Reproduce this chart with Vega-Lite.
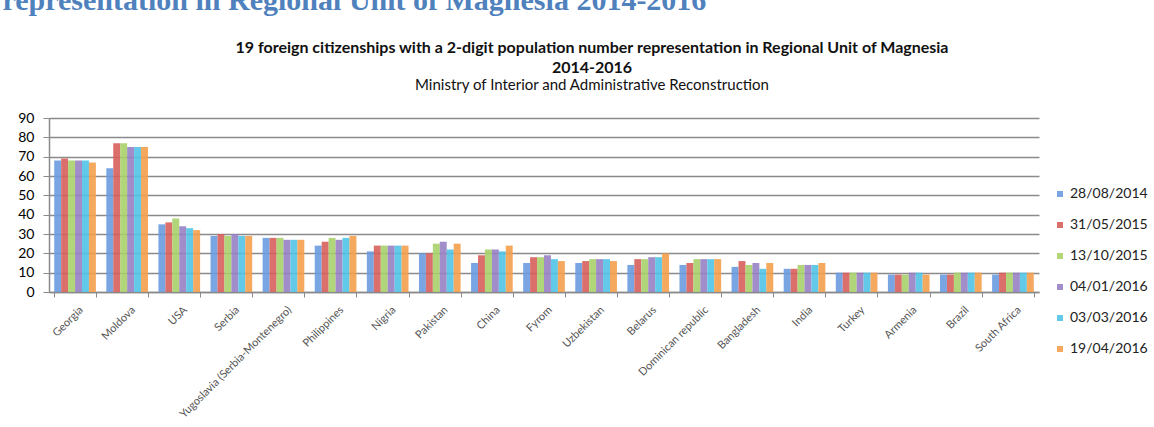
{
  "$schema": "https://vega.github.io/schema/vega-lite/v6.json",
  "autosize": {"type": "none"},
  "width": 990,
  "height": 174,
  "padding": {"left": 49, "top": 118, "right": 115, "bottom": 135},
  "background": "white",
  "title": {
    "text": ["19 foreign citizenships with a 2-digit population number representation in Regional Unit of Magnesia", "2014-2016"],
    "subtitle": "Ministry of Interior and Administrative Reconstruction",
    "anchor": "middle",
    "frame": "group",
    "dx": 48,
    "dy": 108,
    "offset": 0,
    "font": "Lato",
    "fontSize": 16,
    "fontWeight": "bold",
    "color": "#111111",
    "lineHeight": 20,
    "subtitleFont": "Lato",
    "subtitleFontSize": 15,
    "subtitleColor": "#111111",
    "subtitlePadding": 2
  },
  "data": {"values": [
    {"c":"Georgia","d":"28/08/2014","v":68},{"c":"Georgia","d":"31/05/2015","v":69},{"c":"Georgia","d":"13/10/2015","v":68},{"c":"Georgia","d":"04/01/2016","v":68},{"c":"Georgia","d":"03/03/2016","v":68},{"c":"Georgia","d":"19/04/2016","v":67},
    {"c":"Moldova","d":"28/08/2014","v":64},{"c":"Moldova","d":"31/05/2015","v":77},{"c":"Moldova","d":"13/10/2015","v":77},{"c":"Moldova","d":"04/01/2016","v":75},{"c":"Moldova","d":"03/03/2016","v":75},{"c":"Moldova","d":"19/04/2016","v":75},
    {"c":"USA","d":"28/08/2014","v":35},{"c":"USA","d":"31/05/2015","v":36},{"c":"USA","d":"13/10/2015","v":38},{"c":"USA","d":"04/01/2016","v":34},{"c":"USA","d":"03/03/2016","v":33},{"c":"USA","d":"19/04/2016","v":32},
    {"c":"Serbia","d":"28/08/2014","v":29},{"c":"Serbia","d":"31/05/2015","v":30},{"c":"Serbia","d":"13/10/2015","v":29},{"c":"Serbia","d":"04/01/2016","v":30},{"c":"Serbia","d":"03/03/2016","v":29},{"c":"Serbia","d":"19/04/2016","v":29},
    {"c":"Yugoslavia (Serbia-Montenegro)","d":"28/08/2014","v":28},{"c":"Yugoslavia (Serbia-Montenegro)","d":"31/05/2015","v":28},{"c":"Yugoslavia (Serbia-Montenegro)","d":"13/10/2015","v":28},{"c":"Yugoslavia (Serbia-Montenegro)","d":"04/01/2016","v":27},{"c":"Yugoslavia (Serbia-Montenegro)","d":"03/03/2016","v":27},{"c":"Yugoslavia (Serbia-Montenegro)","d":"19/04/2016","v":27},
    {"c":"Philippines","d":"28/08/2014","v":24},{"c":"Philippines","d":"31/05/2015","v":26},{"c":"Philippines","d":"13/10/2015","v":28},{"c":"Philippines","d":"04/01/2016","v":27},{"c":"Philippines","d":"03/03/2016","v":28},{"c":"Philippines","d":"19/04/2016","v":29},
    {"c":"Nigria","d":"28/08/2014","v":21},{"c":"Nigria","d":"31/05/2015","v":24},{"c":"Nigria","d":"13/10/2015","v":24},{"c":"Nigria","d":"04/01/2016","v":24},{"c":"Nigria","d":"03/03/2016","v":24},{"c":"Nigria","d":"19/04/2016","v":24},
    {"c":"Pakistan","d":"28/08/2014","v":20},{"c":"Pakistan","d":"31/05/2015","v":20},{"c":"Pakistan","d":"13/10/2015","v":25},{"c":"Pakistan","d":"04/01/2016","v":26},{"c":"Pakistan","d":"03/03/2016","v":22},{"c":"Pakistan","d":"19/04/2016","v":25},
    {"c":"China","d":"28/08/2014","v":15},{"c":"China","d":"31/05/2015","v":19},{"c":"China","d":"13/10/2015","v":22},{"c":"China","d":"04/01/2016","v":22},{"c":"China","d":"03/03/2016","v":21},{"c":"China","d":"19/04/2016","v":24},
    {"c":"Fyrom","d":"28/08/2014","v":15},{"c":"Fyrom","d":"31/05/2015","v":18},{"c":"Fyrom","d":"13/10/2015","v":18},{"c":"Fyrom","d":"04/01/2016","v":19},{"c":"Fyrom","d":"03/03/2016","v":17},{"c":"Fyrom","d":"19/04/2016","v":16},
    {"c":"Uzbekistan","d":"28/08/2014","v":15},{"c":"Uzbekistan","d":"31/05/2015","v":16},{"c":"Uzbekistan","d":"13/10/2015","v":17},{"c":"Uzbekistan","d":"04/01/2016","v":17},{"c":"Uzbekistan","d":"03/03/2016","v":17},{"c":"Uzbekistan","d":"19/04/2016","v":16},
    {"c":"Belarus","d":"28/08/2014","v":14},{"c":"Belarus","d":"31/05/2015","v":17},{"c":"Belarus","d":"13/10/2015","v":17},{"c":"Belarus","d":"04/01/2016","v":18},{"c":"Belarus","d":"03/03/2016","v":18},{"c":"Belarus","d":"19/04/2016","v":20},
    {"c":"Dominican republic","d":"28/08/2014","v":14},{"c":"Dominican republic","d":"31/05/2015","v":15},{"c":"Dominican republic","d":"13/10/2015","v":17},{"c":"Dominican republic","d":"04/01/2016","v":17},{"c":"Dominican republic","d":"03/03/2016","v":17},{"c":"Dominican republic","d":"19/04/2016","v":17},
    {"c":"Bangladesh","d":"28/08/2014","v":13},{"c":"Bangladesh","d":"31/05/2015","v":16},{"c":"Bangladesh","d":"13/10/2015","v":14},{"c":"Bangladesh","d":"04/01/2016","v":15},{"c":"Bangladesh","d":"03/03/2016","v":12},{"c":"Bangladesh","d":"19/04/2016","v":15},
    {"c":"India","d":"28/08/2014","v":12},{"c":"India","d":"31/05/2015","v":12},{"c":"India","d":"13/10/2015","v":14},{"c":"India","d":"04/01/2016","v":14},{"c":"India","d":"03/03/2016","v":14},{"c":"India","d":"19/04/2016","v":15},
    {"c":"Turkey","d":"28/08/2014","v":10},{"c":"Turkey","d":"31/05/2015","v":10},{"c":"Turkey","d":"13/10/2015","v":10},{"c":"Turkey","d":"04/01/2016","v":10},{"c":"Turkey","d":"03/03/2016","v":10},{"c":"Turkey","d":"19/04/2016","v":10},
    {"c":"Armenia","d":"28/08/2014","v":9},{"c":"Armenia","d":"31/05/2015","v":9},{"c":"Armenia","d":"13/10/2015","v":9},{"c":"Armenia","d":"04/01/2016","v":10},{"c":"Armenia","d":"03/03/2016","v":10},{"c":"Armenia","d":"19/04/2016","v":9},
    {"c":"Brazil","d":"28/08/2014","v":9},{"c":"Brazil","d":"31/05/2015","v":9},{"c":"Brazil","d":"13/10/2015","v":10},{"c":"Brazil","d":"04/01/2016","v":10},{"c":"Brazil","d":"03/03/2016","v":10},{"c":"Brazil","d":"19/04/2016","v":10},
    {"c":"South Africa","d":"28/08/2014","v":9},{"c":"South Africa","d":"31/05/2015","v":10},{"c":"South Africa","d":"13/10/2015","v":10},{"c":"South Africa","d":"04/01/2016","v":10},{"c":"South Africa","d":"03/03/2016","v":10},{"c":"South Africa","d":"19/04/2016","v":10}
  ]},
  "mark": {"type": "bar", "opacity": 0.9},
  "encoding": {
    "x": {
      "field": "c", "type": "nominal", "sort": null,
      "scale": {"paddingInner": 0.2, "paddingOuter": 0.1},
      "axis": {
        "title": null,
        "labelAngle": -45,
        "labelAlign": "right",
        "labelBaseline": "middle",
        "labelPadding": 11,
        "labelOffset": 6,
        "labelFont": "Lato",
        "labelFontSize": 11,
        "labelColor": "#555555",
        "tickBand": "extent",
        "tickSize": 5,
        "tickColor": "#8a8a8a",
        "domainColor": "#8a8a8a",
        "domainWidth": 1.5
      }
    },
    "xOffset": {
      "field": "d", "type": "nominal",
      "scale": {"domain": ["28/08/2014", "31/05/2015", "13/10/2015", "04/01/2016", "03/03/2016", "19/04/2016"], "paddingInner": 0, "paddingOuter": 0}
    },
    "y": {
      "field": "v", "type": "quantitative",
      "scale": {"domain": [0, 90], "nice": false},
      "axis": {
        "title": "representation in Regional Unit of Magnesia 2014-2016",
        "titleAngle": 0,
        "titleX": -47,
        "titleY": -109,
        "titleAlign": "left",
        "titleBaseline": "alphabetic",
        "titleFont": "Liberation Serif",
        "titleFontSize": 30,
        "titleFontWeight": "bold",
        "titleColor": "#4f81bd",
        "values": [0, 10, 20, 30, 40, 50, 60, 70, 80, 90],
        "labelFont": "Lato",
        "labelFontSize": 14,
        "labelColor": "#000000",
        "labelPadding": 9,
        "tickSize": 6,
        "tickColor": "#8a8a8a",
        "domainColor": "#8a8a8a",
        "domainWidth": 1.5,
        "grid": true,
        "gridColor": "#8a8a8a",
        "gridWidth": 1.5
      }
    },
    "color": {
      "field": "d", "type": "nominal",
      "scale": {
        "domain": ["28/08/2014", "31/05/2015", "13/10/2015", "04/01/2016", "03/03/2016", "19/04/2016"],
        "range": ["#6a9be0", "#d65f5c", "#a9d06a", "#9781c3", "#52c3e6", "#f4a04e"]
      },
      "legend": {
        "title": null,
        "orient": "none",
        "legendX": 1004,
        "legendY": 69,
        "symbolType": "square",
        "symbolSize": 36,
        "symbolStrokeWidth": 0,
        "labelFont": "Lato",
        "labelFontSize": 14,
        "labelColor": "#222222",
        "labelOffset": 3,
        "rowPadding": 17
      }
    }
  },
  "config": {
    "view": {"stroke": null}
  }
}
